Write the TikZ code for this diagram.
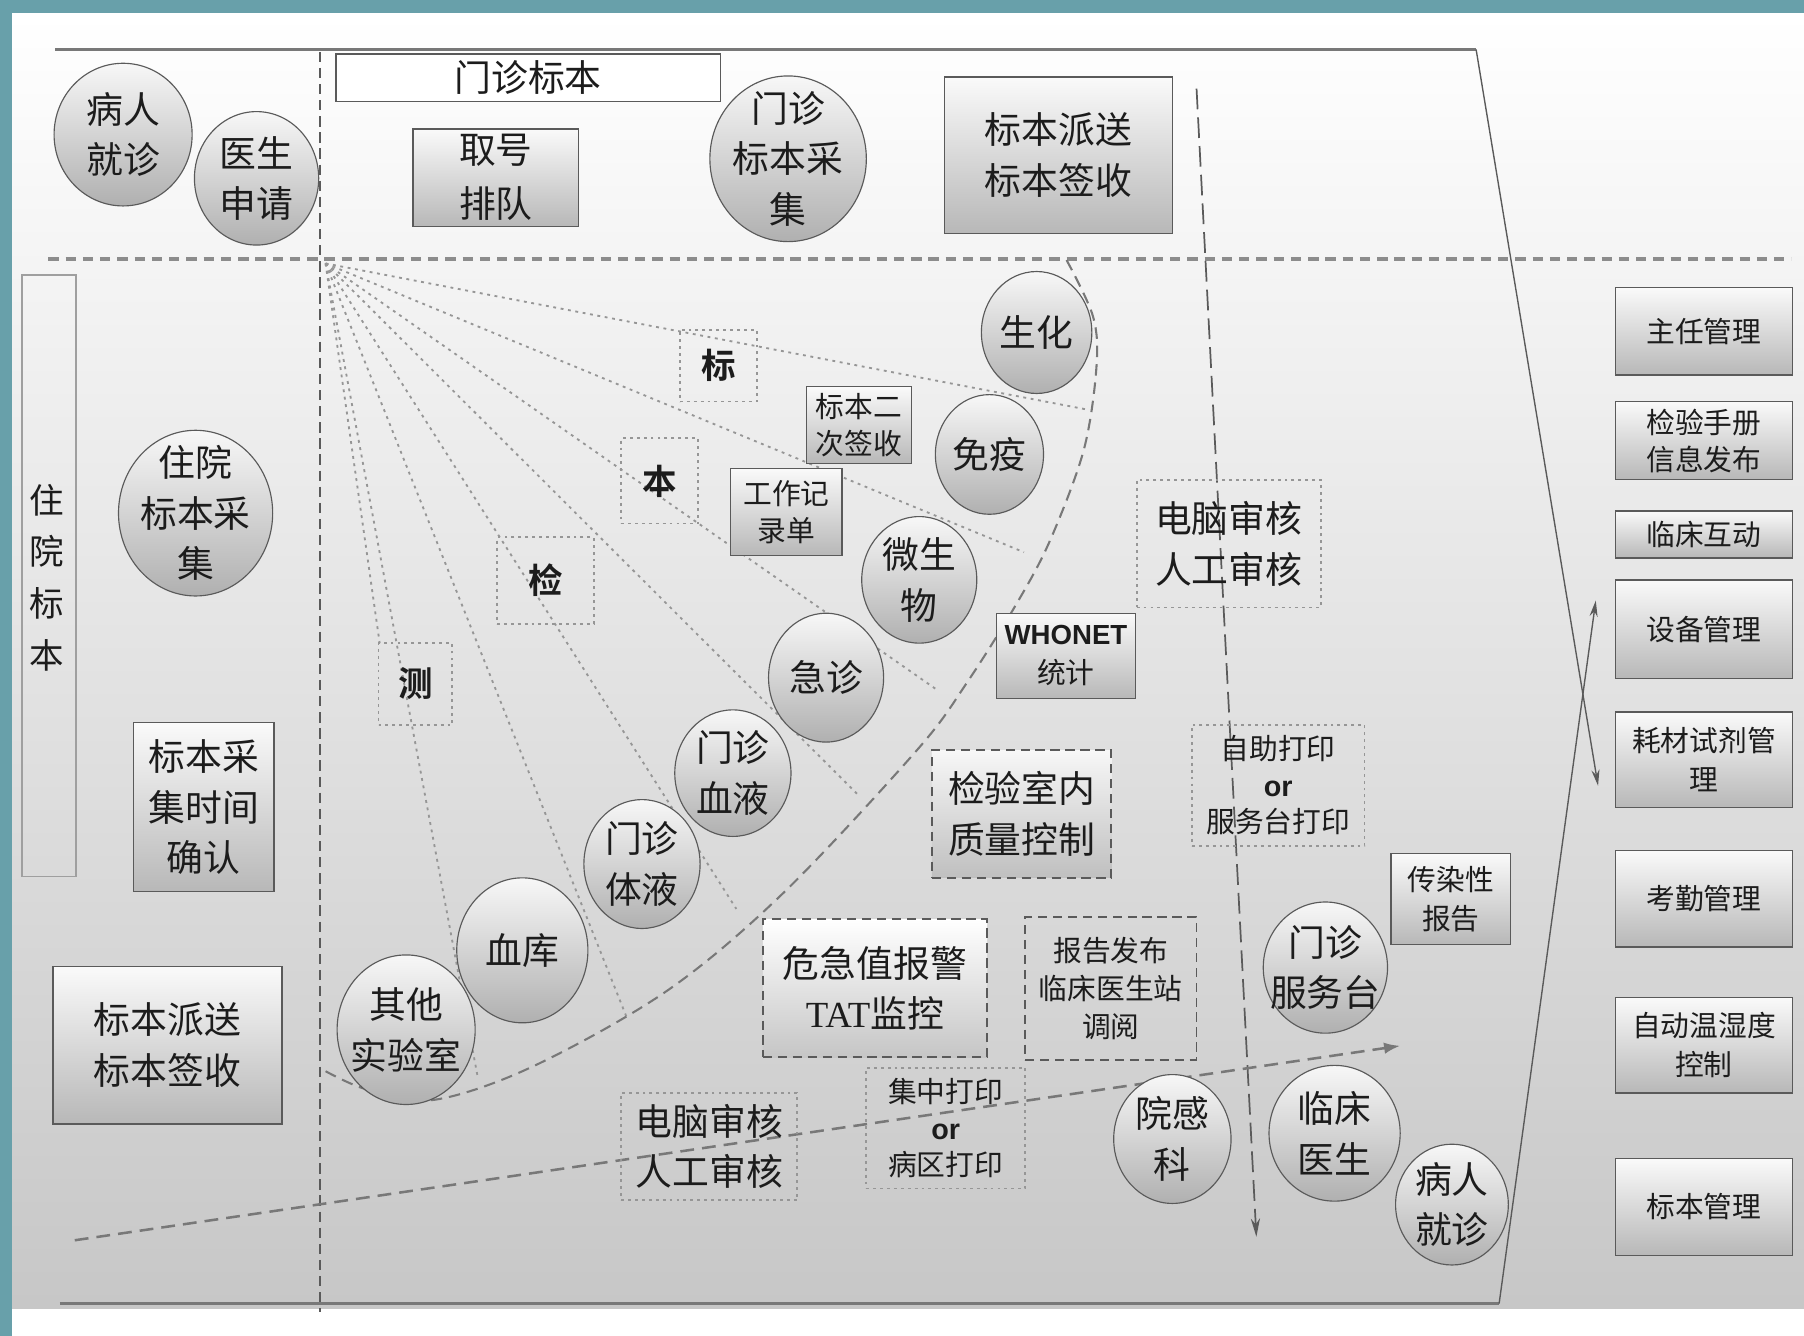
\documentclass[tikz,border=0pt]{standalone}
\usepackage{fontspec}
\setmainfont{Noto Sans CJK SC}[BoldFont={Noto Sans CJK SC Bold}]
\newfontfamily\latinsans{Liberation Sans}
\newfontfamily\latinserif{Liberation Serif}
\usetikzlibrary{shapes.geometric,arrows.meta}
\definecolor{tealbg}{RGB}{104,160,170}
\definecolor{linegray}{RGB}{120,120,120}
\definecolor{dashgray}{RGB}{140,140,140}
\definecolor{bordergray}{RGB}{90,90,90}
\definecolor{txtc}{RGB}{28,28,28}
\definecolor{dotgray}{RGB}{150,150,150}
\tikzset{
  circ/.style={ellipse, draw=bordergray, line width=1pt, top color=gray!6, bottom color=gray!62, inner sep=0pt},
  gbox/.style={rectangle, draw=bordergray, line width=1.2pt, top color=gray!4, bottom color=gray!56, inner sep=0pt},
  dotbox/.style={rectangle, draw=dotgray, line width=1.6pt, dash pattern=on 2.5pt off 3.5pt, inner sep=0pt},
  dashbox/.style={rectangle, draw=bordergray, line width=1.6pt, dash pattern=on 8pt off 5pt, inner sep=0pt},
  bigtxt/.style={font=\fontsize{32}{44}\selectfont, text=txtc, align=center, inner sep=0pt},
  smalltxt/.style={font=\fontsize{25}{33}\selectfont, text=txtc, align=center, inner sep=0pt},
  boldtxt/.style={font=\fontsize{30}{36}\selectfont\bfseries, text=txtc, align=center, inner sep=0pt},
  fanline/.style={draw=dotgray, line width=1.6pt, dash pattern=on 2.5pt off 4pt},
  arcline/.style={draw=linegray, line width=1.8pt, dash pattern=on 10pt off 6pt},
}
\newcommand\ballnode[6]{%
  \node[circ, minimum width=#4pt, minimum height=#5pt] (#1) at (#2,#3) {};
  \node[bigtxt] (#1-t) at (#1) {#6};}
\begin{document}
\begin{tikzpicture}[x=1pt,y=-1pt]
\useasboundingbox (0,0) rectangle (1568,1161);
\fill[white] (0,0) rectangle (1568,1161);
\shade[top color=white, middle color=gray!14, bottom color=gray!44] (10,11) rectangle (1568,1137);
\fill[tealbg] (0,0) rectangle (1568,11);
\fill[tealbg] (0,0) rectangle (10,1161);

% frame lines
\coordinate (tl) at (48,43); \coordinate (tr) at (1283,43);
\coordinate (bl) at (52,1133); \coordinate (br) at (1303,1133);
\coordinate (hl) at (42,225); \coordinate (hr) at (1557,225);
\coordinate (vt) at (278,45); \coordinate (vb) at (278,1140);
\coordinate (xa) at (1389,683); \coordinate (xb) at (1387,522);
\coordinate (va1) at (1040,77); \coordinate (va2) at (1092,1075);
\coordinate (ba1) at (65,1078); \coordinate (ba2) at (1217,909);

\draw[linegray, line width=3pt] (tl) -- (tr);
\draw[linegray, line width=3pt] (bl) -- (br);
\draw[dashgray, line width=3pt, dash pattern=on 9pt off 6pt] (hl) -- (hr);
\draw[bordergray, line width=1.2pt, dash pattern=on 9pt off 5pt] (vt) -- (vb);
\draw[bordergray, line width=1.2pt, -{Stealth[length=14pt,width=7pt]}] (tr) -- (xa);
\draw[bordergray, line width=1.2pt, -{Stealth[length=14pt,width=7pt]}] (br) -- (xb);
\draw[bordergray, line width=1.5pt, dash pattern=on 18pt off 7pt, -{Stealth[length=16pt,width=8pt]}] (va1) -- (va2);
\draw[linegray, line width=2.2pt, dash pattern=on 12pt off 7pt, -{Latex[length=14pt,width=10pt]}] (ba1) -- (ba2);

% fan of dotted rays
\coordinate (apex) at (283,229);
\coordinate (f1) at (945,356);
\coordinate (f2) at (890,480);
\coordinate (f3) at (815,600);
\coordinate (f4) at (745,690);
\coordinate (f5) at (640,790);
\coordinate (f6) at (545,885);
\coordinate (f7) at (415,935);
\coordinate (f8) at (330,559);
\foreach \e in {f1,f2,f3,f4,f5,f6,f7,f8} \draw[fanline] (apex) -- (\e);

% big dashed arc
\draw[arcline] plot[smooth, tension=0.55] coordinates {(927,226) (950,275) (953,319) (942,391) (913,469) (884,524) (840,594) (797,652) (681,776) (580,861) (463,927) (377,956) (319,947) (281,930)};

% top row
\ballnode{pr1}{107}{117}{120}{124}{病人\\就诊}
\ballnode{ys}{223}{155}{108}{116}{医生\\申请}
\node[rectangle, draw=bordergray, line width=1.2pt, fill=white, minimum width=334pt, minimum height=41pt, bigtxt] (mzbb) at (459,67.5) {门诊标本};
\node[gbox, bigtxt, minimum width=144pt, minimum height=85pt, font=\fontsize{32}{47}\selectfont] (qh) at (431,154.5) {取号\\排队};
\ballnode{mzcj}{685}{138}{136}{144}{门诊\\标本采\\集}
\node[gbox, bigtxt, minimum width=198pt, minimum height=136pt] (ps1) at (920,135) {标本派送\\标本签收};

% left column
\node[rectangle, draw=gray!75, line width=1.2pt, minimum width=47pt, minimum height=523pt] (zybb) at (42.5,500.5) {};
\node[font=\fontsize{30}{45}\selectfont, text=txtc, align=center, inner sep=0pt] (zybb-t) at (41,502) {住\\院\\标\\本};
\ballnode{zycj}{170}{446}{134}{144}{住院\\标本采\\集}
\node[gbox, bigtxt, minimum width=122pt, minimum height=147pt] (cjsj) at (177,701.5) {标本采\\集时间\\确认};
\node[gbox, bigtxt, minimum width=199pt, minimum height=137pt] (ps2) at (145.5,908.5) {标本派送\\标本签收};

% fan labels
\node[dotbox, boldtxt, minimum width=67pt, minimum height=62pt] (b1) at (624.5,318) {标};
\node[dotbox, boldtxt, minimum width=67pt, minimum height=74pt] (b2) at (573.5,418) {本};
\node[dotbox, boldtxt, minimum width=84pt, minimum height=75pt] (b3) at (474,504.5) {检};
\node[dotbox, boldtxt, minimum width=64pt, minimum height=71pt] (b4) at (361,594.5) {测};

\node[gbox, smalltxt, minimum width=91pt, minimum height=67pt, font=\fontsize{25}{32}\selectfont] (eqs) at (746.5,369.5) {标本二\\次签收};
\node[gbox, smalltxt, minimum width=97pt, minimum height=76pt, font=\fontsize{25}{32}\selectfont] (gzjl) at (683.5,445) {工作记\\录单};

% lab circles
\ballnode{sh}{901}{289}{96}{106}{生化}
\ballnode{my}{860}{395}{94}{104}{免疫}
\ballnode{wsw}{799}{504}{100}{110}{微生\\物}
\ballnode{jz}{718}{589}{100}{112}{急诊}
\ballnode{mzxy}{637}{672}{101}{110}{门诊\\血液}
\ballnode{mzty}{558}{751}{101}{112}{门诊\\体液}
\ballnode{xk}{454}{826}{114}{126}{血库}
\ballnode{qt}{353}{895}{120}{130}{其他\\实验室}

% middle boxes
\node[gbox, smalltxt, minimum width=121pt, minimum height=74pt, font=\fontsize{25}{34}\selectfont] (who) at (926.5,570) {{\latinsans\bfseries\fontsize{24}{34}\selectfont WHONET}\\统计};
\node[dashbox, bigtxt, top color=gray!6, bottom color=gray!50, minimum width=156pt, minimum height=111pt] (qc) at (888,707.5) {检验室内\\质量控制};
\node[dashbox, bigtxt, top color=white, bottom color=gray!45, minimum width=195pt, minimum height=120pt] (wjz) at (760.5,859) {危急值报警\\{\latinserif TAT}监控};
\node[dashbox, smalltxt, minimum width=149pt, minimum height=124pt] (bgfb) at (965.5,859) {报告发布\\临床医生站\\调阅};
\node[dotbox, bigtxt, minimum width=160pt, minimum height=111pt] (dn1) at (1068,472.5) {电脑审核\\人工审核};
\node[dotbox, smalltxt, minimum width=150pt, minimum height=105pt, font=\fontsize{25}{32}\selectfont] (zzdy) at (1111,682.5) {自助打印\\{\latinsans\bfseries or}\\服务台打印};
\node[gbox, smalltxt, minimum width=104pt, minimum height=79pt, font=\fontsize{25}{34}\selectfont] (crx) at (1261,781.5) {传染性\\报告};
\ballnode{mzfw}{1152}{841}{108}{114}{门诊\\服务台}
\node[dotbox, bigtxt, minimum width=153pt, minimum height=93pt] (dn2) at (616.5,996.5) {电脑审核\\人工审核};
\node[dotbox, smalltxt, minimum width=138pt, minimum height=105pt, font=\fontsize{25}{32}\selectfont] (jzdy) at (822,980.5) {集中打印\\{\latinsans\bfseries or}\\病区打印};
\ballnode{ygk}{1019}{990}{102}{112}{院感\\科}
\ballnode{lcys}{1160}{985}{114}{118}{临床\\医生}
\ballnode{pr2}{1262}{1047}{98}{105}{病人\\就诊}

% right column
\node[gbox, smalltxt, minimum width=154pt, minimum height=76pt] (zr) at (1481,288) {主任管理};
\node[gbox, smalltxt, minimum width=154pt, minimum height=68pt, font=\fontsize{25}{32}\selectfont] (sc) at (1481,383) {检验手册\\信息发布};
\node[gbox, smalltxt, minimum width=154pt, minimum height=41pt] (hd) at (1481,464.5) {临床互动};
\node[gbox, smalltxt, minimum width=154pt, minimum height=86pt] (sb) at (1481,547) {设备管理};
\node[gbox, smalltxt, minimum width=154pt, minimum height=83pt, font=\fontsize{25}{34}\selectfont] (hc) at (1481,660.5) {耗材试剂管\\理};
\node[gbox, smalltxt, minimum width=154pt, minimum height=84pt] (kq) at (1481,781) {考勤管理};
\node[gbox, smalltxt, minimum width=154pt, minimum height=83pt, font=\fontsize{25}{34}\selectfont] (wsd) at (1481,908.5) {自动温湿度\\控制};
\node[gbox, smalltxt, minimum width=154pt, minimum height=84pt] (bbgl) at (1481,1049) {标本管理};
\end{tikzpicture}
\end{document}
